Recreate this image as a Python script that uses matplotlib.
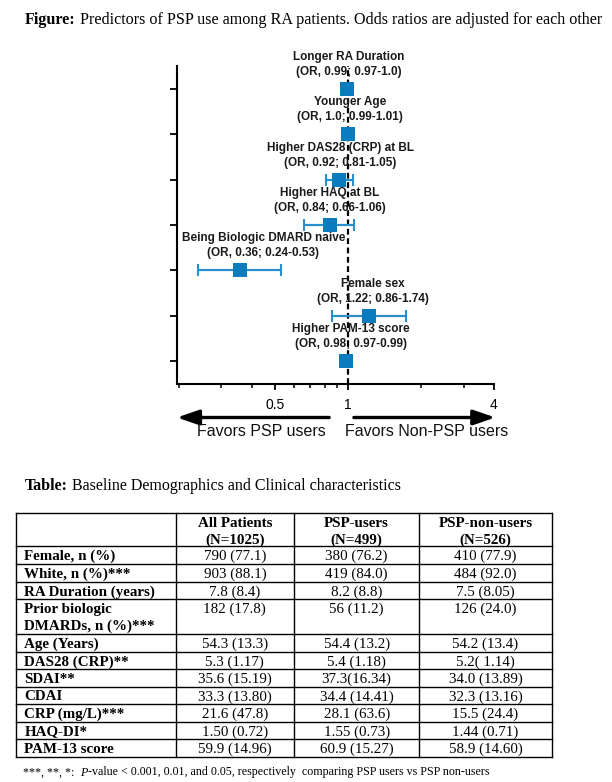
import matplotlib
matplotlib.use("Agg")
import matplotlib.pyplot as plt
from matplotlib.ticker import FixedLocator, NullFormatter, FixedFormatter
from matplotlib.patches import ArrowStyle

# ---------------- data ----------------
predictors = ["Longer RA Duration", "Younger Age", "Higher DAS28 (CRP) at BL",
              "Higher HAQ at BL", "Being Biologic DMARD naive", "Female sex",
              "Higher PAM-13 score"]
odds_ratio = [0.99, 1.0, 0.92, 0.84, 0.36, 1.22, 0.98]
ci_low = [0.97, 0.99, 0.81, 0.66, 0.24, 0.86, 0.97]
ci_high = [1.0, 1.01, 1.05, 1.06, 0.53, 1.74, 0.99]
or_labels = ["(OR, 0.99; 0.97-1.0)", "(OR, 1.0; 0.99-1.01)", "(OR, 0.92; 0.81-1.05)",
             "(OR, 0.84; 0.66-1.06)", "(OR, 0.36; 0.24-0.53)", "(OR, 1.22; 0.86-1.74)",
             "(OR, 0.98; 0.97-0.99)"]
x_major_ticks = [0.5, 1, 4]
x_major_labels = ["0.5", "1", "4"]
x_minor_ticks = [0.2, 0.3, 0.4, 0.6, 0.7, 0.8, 0.9, 2, 3]

table_columns = ["All Patients\n(N=1025)", "PSP-users\n(N=499)", "PSP-non-users\n(N=526)"]
table_rows = ["Female, n (%)", "White, n (%)***", "RA Duration (years)",
              "Prior biologic\nDMARDs, n (%)***", "Age (Years)", "DAS28 (CRP)**",
              "SDAI**", "CDAI", "CRP (mg/L)***", "HAQ-DI*", "PAM-13 score"]
all_patients = ["790 (77.1)", "903 (88.1)", "7.8 (8.4)", "182 (17.8)", "54.3 (13.3)",
                "5.3 (1.17)", "35.6 (15.19)", "33.3 (13.80)", "21.6 (47.8)",
                "1.50 (0.72)", "59.9 (14.96)"]
psp_users = ["380 (76.2)", "419 (84.0)", "8.2 (8.8)", "56 (11.2)", "54.4 (13.2)",
             "5.4 (1.18)", "37.3(16.34)", "34.4 (14.41)", "28.1 (63.6)",
             "1.55 (0.73)", "60.9 (15.27)"]
psp_non_users = ["410 (77.9)", "484 (92.0)", "7.5 (8.05)", "126 (24.0)", "54.2 (13.4)",
                 "5.2( 1.14)", "34.0 (13.89)", "32.3 (13.16)", "15.5 (24.4)",
                 "1.44 (0.71)", "58.9 (14.60)"]

# ---------------- figure ----------------
W, H = 612, 782
fig = plt.figure(figsize=(W / 100, H / 100), dpi=100)
fig.patch.set_facecolor("white")

SANS = ["Liberation Sans", "DejaVu Sans"]
SERIF = ["Liberation Serif", "DejaVu Serif"]

# forest axes (pixel layout)
ax_l, ax_r, ax_t, ax_b = 177, 494, 66, 384
ax = fig.add_axes([ax_l / W, 1 - ax_b / H, (ax_r - ax_l) / W, (ax_b - ax_t) / H])
ax.set_xscale("log")
ax.set_xlim(0.197, 4.0)
n = len(predictors)
ax.set_ylim(0.5, n + 0.5)
ypos = [n - i for i in range(n)]

mcol = "#0a7bbd"
ecol = "#2a8fcc"
xerr = [[o - l for o, l in zip(odds_ratio, ci_low)], [h - o for o, h in zip(odds_ratio, ci_high)]]
ax.errorbar(odds_ratio, ypos, xerr=xerr, fmt="none", ecolor=ecol, elinewidth=1.6,
            capsize=4.5, capthick=1.5, zorder=3)
ax.plot(odds_ratio, ypos, "s", color=mcol, markersize=10, zorder=4, markeredgewidth=0)
ax.axvline(1, color="black", linestyle=(0, (2.6, 1.6)), linewidth=1.6, zorder=2)

label_dx = [2, 2, 1, 0, 23, 4, 5]
for i in range(n):
    ax.annotate(predictors[i], (odds_ratio[i], ypos[i]), xytext=(label_dx[i], 32),
                textcoords="offset pixels", ha="center", va="center",
                fontsize=8.5, fontweight="bold", family=SANS, color="#1a1a1a", zorder=5)
    ax.annotate(or_labels[i], (odds_ratio[i], ypos[i]), xytext=(label_dx[i], 17),
                textcoords="offset pixels", ha="center", va="center",
                fontsize=8.5, fontweight="bold", family=SANS, color="#1a1a1a", zorder=5)

for s in ["top", "right"]:
    ax.spines[s].set_visible(False)
for s in ["left", "bottom"]:
    ax.spines[s].set_linewidth(1.5)
ax.xaxis.set_major_locator(FixedLocator(x_major_ticks))
ax.xaxis.set_major_formatter(FixedFormatter(x_major_labels))
ax.xaxis.set_minor_locator(FixedLocator(x_minor_ticks))
ax.xaxis.set_minor_formatter(NullFormatter())
ax.set_yticks(ypos)
ax.set_yticklabels([])
ax.tick_params(axis="x", which="major", length=4, width=1.3, pad=6, labelsize=10)
ax.tick_params(axis="x", which="minor", length=3, width=1.1)
ax.tick_params(axis="y", which="major", length=5, width=1.3)
for t in ax.get_xticklabels():
    t.set_family(SANS)

# arrows below axis
yarr = (ax_b - 417.5) / (ax_b - ax_t)
astyle = ArrowStyle("-|>", head_length=1.1, head_width=0.38)
ax.annotate("", xy=(0.0, yarr), xytext=(0.48, yarr), xycoords="axes fraction",
            arrowprops=dict(arrowstyle=astyle, mutation_scale=12, lw=2.4, color="black",
                            shrinkA=0, shrinkB=0), annotation_clip=False)
ax.annotate("", xy=(1.004, yarr), xytext=(0.558, yarr), xycoords="axes fraction",
            arrowprops=dict(arrowstyle=astyle, mutation_scale=12, lw=2.4, color="black",
                            shrinkA=0, shrinkB=0), annotation_clip=False)
ytxt = (ax_b - 432) / (ax_b - ax_t)
ax.text(0.267, ytxt, "Favors PSP users", transform=ax.transAxes, ha="center", va="center",
        fontsize=11.5, family=SANS, color="#111111")
ax.text(0.788, ytxt, "Favors Non-PSP users", transform=ax.transAxes, ha="center", va="center",
        fontsize=11.5, family=SANS, color="#111111")

# ---------------- overlay for titles & table (pixel coords) ----------------
ov = fig.add_axes([0, 0, 1, 1])
ov.set_xlim(0, W)
ov.set_ylim(H, 0)
ov.axis("off")
ov.patch.set_visible(False)

fig.canvas.draw()
renderer = fig.canvas.get_renderer()


def rich_line(x, y, parts, size):
    """parts: list of (text, weight, style); y is the baseline in pixels."""
    cx = x
    for txt, weight, style in parts:
        t = ov.text(cx, y, txt, ha="left", va="baseline", fontsize=size, family=SERIF,
                    fontweight=weight, fontstyle=style, color="black")
        bb = t.get_window_extent(renderer=renderer)
        cx += bb.width  # 1 data unit == 1 pixel
    return cx


rich_line(25, 23.5, [("Figure:", "bold", "normal"),
                     (" Predictors of PSP use among RA patients. Odds ratios are adjusted for each other",
                      "normal", "normal")], 11.65)
rich_line(25, 490, [("Table:", "bold", "normal"),
                    (" Baseline Demographics and Clinical characteristics", "normal", "normal")], 11.5)

# table grid
col_x = [16, 175.7, 294, 419.3, 551.7]
row_y = [512.7, 546, 564, 581.7, 599, 634, 651.7, 669, 686.7, 704, 721.7, 739, 756.7]
lw = 1.0
for yy in row_y:
    ov.plot([col_x[0], col_x[-1]], [yy, yy], color="black", lw=lw, solid_capstyle="projecting")
for xx in col_x:
    ov.plot([xx, xx], [row_y[0], row_y[-1]], color="black", lw=lw, solid_capstyle="projecting")

TS = 10.8
line_h = 16.8
base_off = 5.0
# header
for j, head in enumerate(table_columns):
    cx = (col_x[j + 1] + col_x[j + 2]) / 2
    for k, part in enumerate(head.split("\n")):
        ov.text(cx, 521.7 + base_off + k * line_h, part, ha="center", va="baseline",
                fontsize=TS, family=SERIF, fontweight="bold")

# body
cols = [all_patients, psp_users, psp_non_users]
for i, rname in enumerate(table_rows):
    top, bot = row_y[i + 1], row_y[i + 2]
    nlines = len(rname.split("\n"))
    if nlines == 1:
        yc = (top + bot) / 2
    else:
        yc = top + 9.3
    for k, part in enumerate(rname.split("\n")):
        ov.text(24.3, yc + base_off + k * line_h, part, ha="left", va="baseline",
                fontsize=TS, family=SERIF, fontweight="bold")
    for j, col in enumerate(cols):
        cx = (col_x[j + 1] + col_x[j + 2]) / 2
        ov.text(cx, yc + base_off, col[i], ha="center", va="baseline", fontsize=TS,
                family=SERIF)

rich_line(23, 775.5, [("***, **, *:  ", "normal", "normal"), ("P", "normal", "italic"),
                      ("-value < 0.001, 0.01, and 0.05, respectively  comparing PSP users vs PSP non-users",
                       "normal", "normal")], 8.65)

fig.savefig("out.png", dpi=100, facecolor="white")
